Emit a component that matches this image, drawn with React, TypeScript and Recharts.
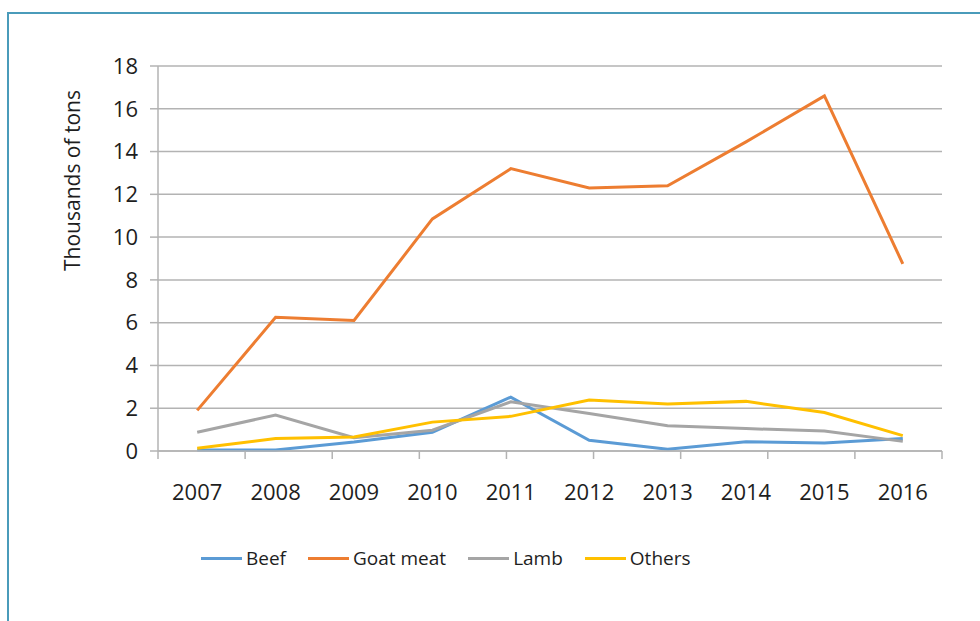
import { LineChart, Line, XAxis, YAxis, CartesianGrid, Label } from 'recharts'

const years = ['2007', '2008', '2009', '2010', '2011', '2012', '2013', '2014', '2015', '2016']
const beef = [0.05, 0.05, 0.42, 0.88, 2.52, 0.5, 0.08, 0.43, 0.37, 0.58]
const goatMeat = [1.9, 6.25, 6.1, 10.85, 13.2, 12.3, 12.4, 14.45, 16.6, 8.75]
const lamb = [0.88, 1.68, 0.62, 0.97, 2.3, 1.75, 1.18, 1.05, 0.93, 0.45]
const others = [0.13, 0.58, 0.65, 1.35, 1.62, 2.38, 2.2, 2.32, 1.8, 0.72]
const yTicks = [0, 2, 4, 6, 8, 10, 12, 14, 16, 18]
const edgeTicks = [0, 1, 2, 3, 4, 5, 6, 7, 8, 9, 10]

const data = years.map((year, i) => ({
  year,
  beef: beef[i],
  goat: goatMeat[i],
  lamb: lamb[i],
  others: others[i],
}))

const series = [
  { key: 'beef', name: 'Beef', color: '#5B9BD5' },
  { key: 'goat', name: 'Goat meat', color: '#ED7D31' },
  { key: 'lamb', name: 'Lamb', color: '#A5A5A5' },
  { key: 'others', name: 'Others', color: '#FFC000' },
]

const font = '"Open Sans", sans-serif'
const textColor = '#1e1e1e'
const axisColor = '#b3b3b3'

function ChartLegend() {
  return (
    <div
      style={{
        position: 'absolute',
        top: 545,
        left: 201,
        display: 'flex',
        alignItems: 'center',
        fontFamily: font,
        fontSize: 19,
        color: textColor,
      }}
    >
      {series.map((s) => (
        <div key={s.key} style={{ display: 'flex', alignItems: 'center', marginRight: 22 }}>
          <div style={{ width: 41, height: 3, background: s.color, marginRight: 4 }} />
          <span>{s.name}</span>
        </div>
      ))}
    </div>
  )
}

export default function App() {
  return (
    <div style={{ position: 'absolute', left: 0, top: 0, width: 980, height: 621, background: '#fff' }}>
      <div
        style={{
          position: 'absolute',
          left: 7,
          top: 12,
          width: 973,
          height: 609,
          borderTop: '2px solid #4A9BBA',
          borderLeft: '2px solid #4A9BBA',
          boxSizing: 'border-box',
        }}
      />
      <div style={{ position: 'absolute', left: 0, top: 0 }}>
        <LineChart width={980} height={621} data={data} margin={{ top: 66, right: 38, left: 58, bottom: 109 }}>
          <CartesianGrid vertical={false} stroke={axisColor} strokeWidth={1.5} />
          <XAxis
            xAxisId={-1}
            type="number"
            domain={[0, 10]}
            ticks={edgeTicks}
            tickFormatter={() => ''}
            axisLine={{ stroke: axisColor, strokeWidth: 1.5 }}
            tickLine={{ stroke: axisColor, strokeWidth: 1.5 }}
            tickSize={8}
            height={1}
          />
          <XAxis
            dataKey="year"
            scale="band"
            tickLine={false}
            axisLine={false}
            tick={{ fontSize: 22, fill: textColor, fontFamily: font }}
            tickMargin={26}
            height={60}
          />
          <YAxis
            domain={[0, 18]}
            ticks={yTicks}
            interval={0}
            width={100}
            tickSize={8}
            tickMargin={12}
            tickLine={{ stroke: axisColor, strokeWidth: 1.5 }}
            axisLine={{ stroke: axisColor, strokeWidth: 1.5 }}
            tick={{ fontSize: 22, fill: textColor, fontFamily: font }}
          >
            <Label
              content={(props: any) => {
                const vb = props.viewBox
                const x = vb.x + 14
                const y = vb.y + vb.height / 2 - 78
                return (
                  <text
                    x={x}
                    y={y}
                    transform={`rotate(-90, ${x}, ${y})`}
                    textAnchor="middle"
                    dominantBaseline="central"
                    fontSize={21}
                    fontFamily={font}
                    fill={textColor}
                  >
                    Thousands of tons
                  </text>
                )
              }}
            />
          </YAxis>
          {series.map((s) => (
            <Line
              key={s.key}
              dataKey={s.key}
              name={s.name}
              stroke={s.color}
              strokeWidth={3}
              dot={false}
              type="linear"
              isAnimationActive={false}
            />
          ))}
        </LineChart>
      </div>
      <ChartLegend />
    </div>
  )
}
